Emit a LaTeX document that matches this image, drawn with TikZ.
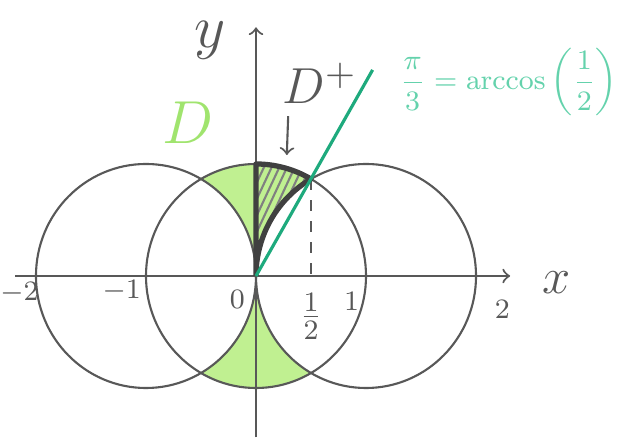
\documentclass[tikz,border=0pt]{standalone}
\usepackage{amsmath}
\usetikzlibrary{arrows}
\definecolor{pencil}{RGB}{88,88,88}
\definecolor{dfill}{RGB}{192,240,145}
\definecolor{dlabel}{RGB}{160,228,110}
\definecolor{tealline}{RGB}{30,170,125}
\definecolor{tealtext}{RGB}{100,210,172}
\tikzstyle{axis}=[->,pencil,line width=0.6pt]
\tikzstyle{circ}=[pencil,line width=0.6pt]
\tikzstyle{bold}=[black!75,line width=1.5pt,line join=round]
\tikzstyle{hatch}=[gray,line width=0.6pt]
\tikzstyle{tick}=[text=pencil,font=\fontsize{8}{9}\selectfont]
\tikzstyle{ang}=[tealline,line width=0.9pt]
\tikzstyle{arr}=[->,pencil,line width=0.6pt]

\begin{document}
\begin{tikzpicture}[x=1.10cm,y=1.12cm]
\useasboundingbox (-2.327,-1.473) rectangle (3.345,2.464);
\coordinate (O) at (0,0);
\coordinate (P) at (0.5,0.866);
\coordinate (Px) at (0.5,0);
\coordinate (xs) at (-2.19,0);
\coordinate (xe) at (2.31,0);
\coordinate (ys) at (0,-1.44);
\coordinate (ye) at (0,2.22);
\coordinate (Q) at (1.06,1.84);
\coordinate (dtip) at (0.28,1.08);
% region D
\begin{scope}
\clip (O) circle[radius=1];
\fill[dfill,even odd rule] (O) circle[radius=1] (-1,0) circle[radius=1] (1,0) circle[radius=1];
\end{scope}
% hatching of D+
\begin{scope}
\clip (O) -- (0,1) arc[start angle=90,end angle=60,radius=1] arc[start angle=120,end angle=180,radius=1] -- cycle;
\foreach \s in {-0.6,-0.53,...,0.5} \draw[hatch] (\s,0) -- ++(0.5,1.05);
\end{scope}
% circles
\draw[circ] (-1,0) circle[radius=1];
\draw[circ] (1,0) circle[radius=1];
\draw[circ] (O) circle[radius=1];
% axes
\draw[axis] (xs) -- (xe);
\draw[axis] (ys) -- (ye);
\draw[pencil,dashed] (P) -- (Px);
\draw[bold] (O) -- (0,1) arc[start angle=90,end angle=60,radius=1] arc[start angle=120,end angle=180,radius=1];
\draw[ang] (O) -- (Q);
% labels
\node[text=pencil,font=\fontsize{16}{18}\selectfont] (ylab) at (-0.42,2.1) {$y$};
\node[text=pencil,font=\fontsize{15}{18}\selectfont] (xlab) at (2.73,-0.06) {$x$};
\node[tick] (tm2) at (-2.15,-0.15) {$-2$};
\node[tick] (tm1) at (-1.22,-0.13) {$-1$};
\node[tick] (t0) at (-0.17,-0.21) {$0$};
\node[tick] (t1) at (0.87,-0.23) {$1$};
\node[tick] (t2) at (2.24,-0.30) {$2$};
\node[tick,font=\fontsize{11}{12}\selectfont] (th) at (0.5,-0.36) {$\tfrac{1}{2}$};
\node[text=tealtext,anchor=west,font=\fontsize{8.5}{10}\selectfont] (acos) at (1.19,1.73) {$\displaystyle\frac{\pi}{3}=\arccos\left(\frac{1}{2}\right)$};
\node[text=dlabel,font=\fontsize{17}{20}\selectfont] (Dl) at (-0.62,1.37) {$D$};
\node[text=pencil,font=\fontsize{15}{18}\selectfont] (Dp) at (0.58,1.72) {$D^{+}$};
\draw[arr] ([xshift=-9pt]Dp.south) -- (dtip);
\end{tikzpicture}
\end{document}
